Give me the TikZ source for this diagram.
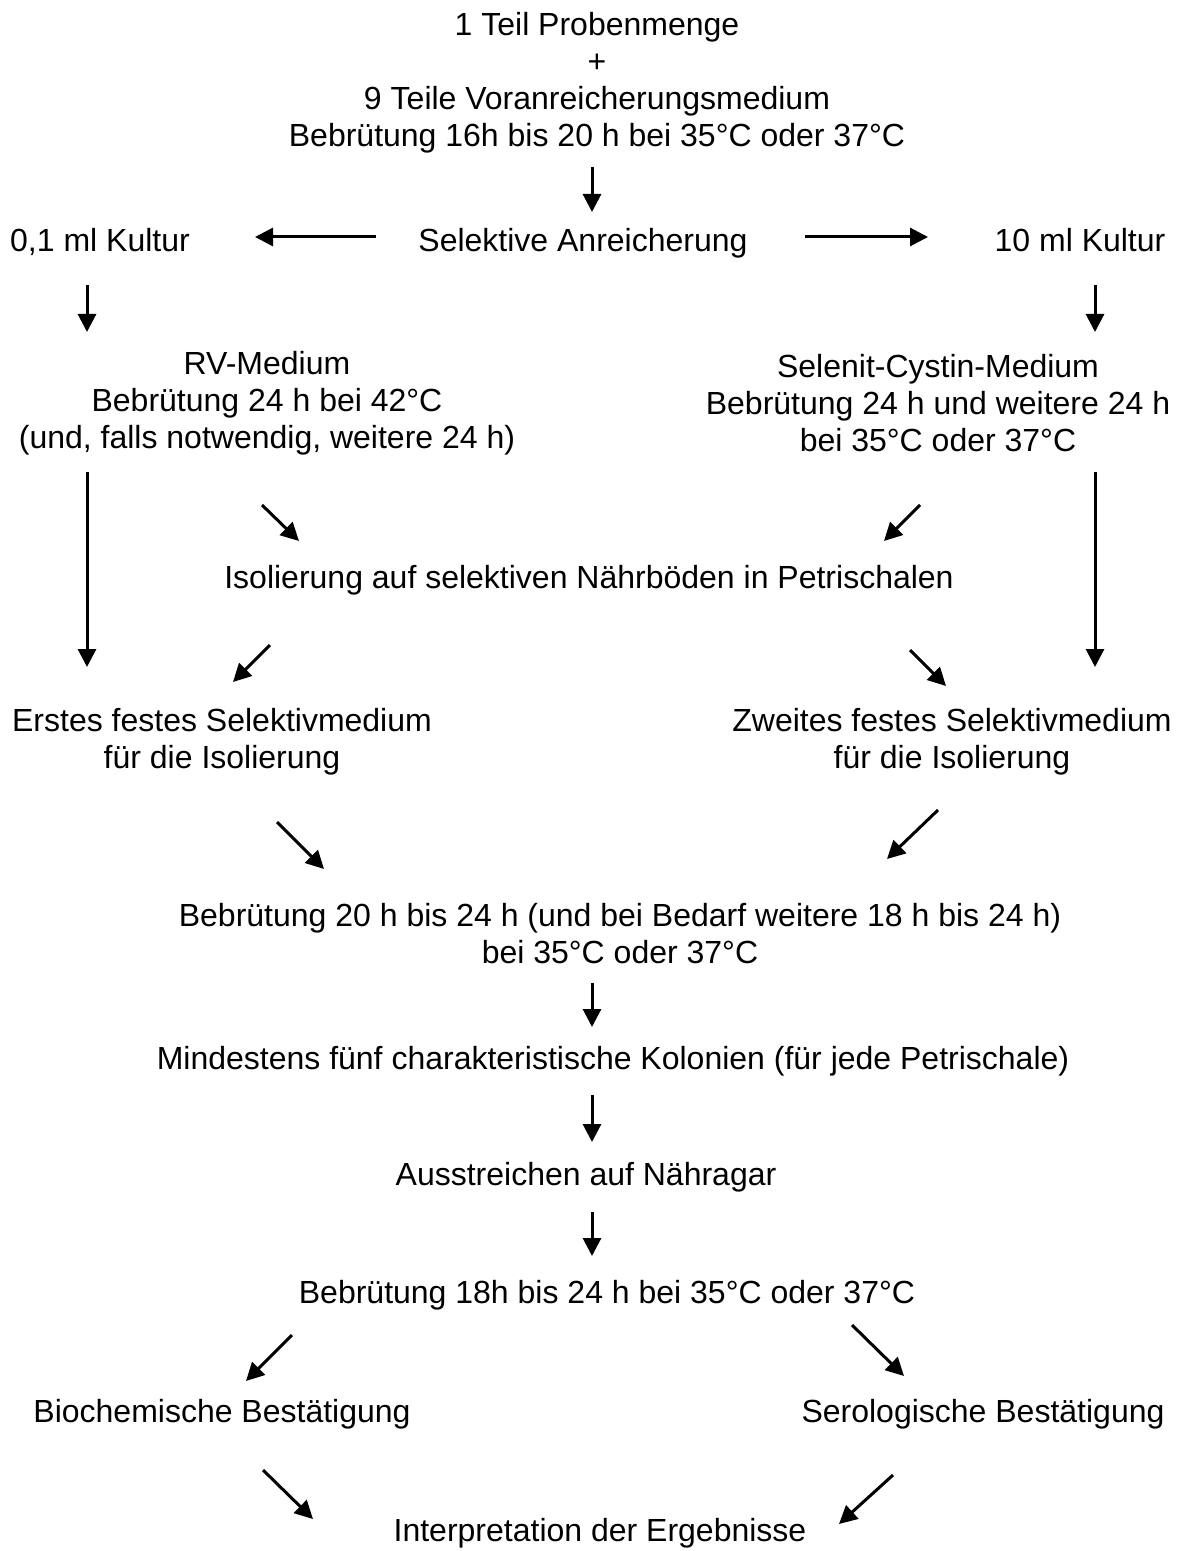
\documentclass[tikz,border=0pt]{standalone}
\usepackage{fontspec}
\setmainfont{Liberation Sans}
\usetikzlibrary{arrows.meta}

\begin{document}
\begin{tikzpicture}[x=0.5pt, y=-0.5pt,
    every node/.style={font=\fontsize{16}{18.5}\selectfont, align=center, inner sep=0pt},
    pfeil/.style={-{Triangle[length=9pt, width=9pt]}, line width=1.5pt}]

            \useasboundingbox (0, 0) rectangle (1182, 1551);

            % texts
            \node (probe) at (597, 83) {1 Teil Probenmenge\\+\\9 Teile Voranreicherungsmedium\\Bebrütung 16h bis 20 h bei 35°C oder 37°C};
            \node (sel) at (583, 243) {Selektive Anreicherung};
            \node (kultA) at (100, 242) {0,1 ml Kultur};
            \node (kultB) at (1080, 240) {10 ml Kultur};
            \node (rv) at (267, 403) {RV-Medium\\Bebrütung 24 h bei 42°C\\(und, falls notwendig, weitere 24 h)};
            \node (selenit) at (938, 403) {Selenit-Cystin-Medium\\Bebrütung 24 h und weitere 24 h\\bei 35°C oder 37°C};
            \node (iso) at (589, 580) {Isolierung auf selektiven Nährböden in Petrischalen};
            \node (erstes) at (222, 742) {Erstes festes Selektivmedium\\für die Isolierung};
            \node (zweites) at (952, 742) {Zweites festes Selektivmedium\\für die Isolierung};
            \node (brut) at (620, 934) {Bebrütung 20 h bis 24 h (und bei Bedarf weitere 18 h bis 24 h)\\bei 35°C oder 37°C};
            \node (kolonien) at (613, 1061) {Mindestens fünf charakteristische Kolonien (für jede Petrischale)};
            \node (agar) at (586, 1177) {Ausstreichen auf Nähragar};
            \node (brutB) at (607, 1295) {Bebrütung 18h bis 24 h bei 35°C oder 37°C};
            \node (bio) at (222, 1414) {Biochemische Bestätigung};
            \node (sero) at (983, 1414) {Serologische Bestätigung};
            \node (interp) at (600, 1533) {Interpretation der Ergebnisse};

            % arrow ends
            \coordinate (a1) at (592, 167);   \coordinate (b1) at (592, 212);
            \coordinate (a2) at (376, 237);   \coordinate (b2) at (255, 237);
            \coordinate (a3) at (805, 237);   \coordinate (b3) at (928, 237);
            \coordinate (a4) at (87, 285);    \coordinate (b4) at (87, 332);
            \coordinate (a5) at (1095, 285);  \coordinate (b5) at (1095, 332);
            \coordinate (a6) at (87, 472);    \coordinate (b6) at (87, 667);
            \coordinate (a7) at (1095, 472);  \coordinate (b7) at (1095, 667);
            \coordinate (a8) at (262, 505);   \coordinate (b8) at (299, 541);
            \coordinate (a9) at (920, 505);   \coordinate (b9) at (884, 541);
            \coordinate (a10) at (270, 645); \coordinate (b10) at (233, 682);
            \coordinate (a11) at (910, 650); \coordinate (b11) at (946, 686);
            \coordinate (a12) at (277, 822); \coordinate (b12) at (324, 869);
            \coordinate (a13) at (938, 810); \coordinate (b13) at (887, 859);
            \coordinate (a14) at (592, 983); \coordinate (b14) at (592, 1027);
            \coordinate (a15) at (592, 1095); \coordinate (b15) at (592, 1142);
            \coordinate (a16) at (592, 1212); \coordinate (b16) at (592, 1256);
            \coordinate (a17) at (292, 1335); \coordinate (b17) at (246, 1381);
            \coordinate (a18) at (852, 1325); \coordinate (b18) at (904, 1376);
            \coordinate (a19) at (263, 1470); \coordinate (b19) at (313, 1519);
            \coordinate (a20) at (893, 1475); \coordinate (b20) at (839, 1524);

            % arrows
            \foreach \i in {1,...,20}
                \draw[pfeil] (a\i) -- (b\i);
\end{tikzpicture}
\end{document}
